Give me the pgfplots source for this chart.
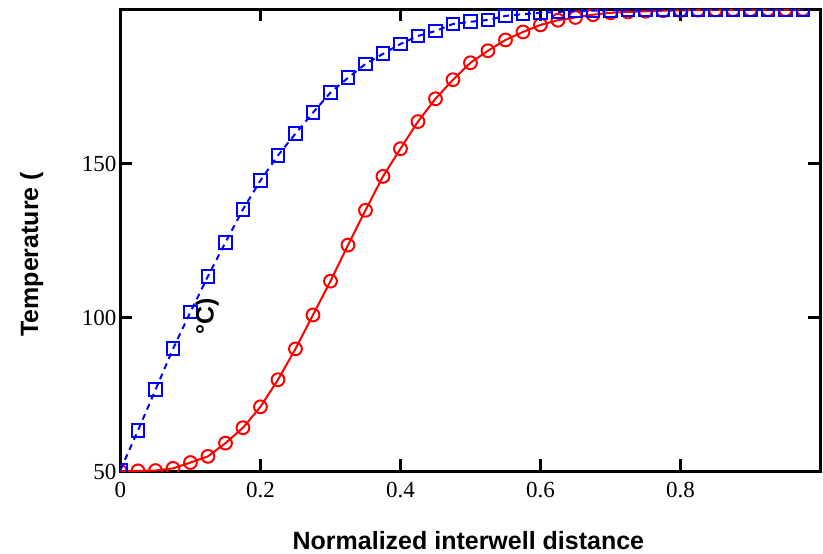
\documentclass[border=0pt]{standalone}
\usepackage{pgfplots}
\pgfplotsset{compat=1.18}
\usepackage{fontspec}
\setmainfont{Liberation Serif}
\setsansfont{Liberation Sans}

\begin{document}
\begin{tikzpicture}
\begin{axis}[
  scale only axis,
  width=350pt, height=231pt,
  xmin=0, xmax=1,
  ymin=50, ymax=200,
  xtick={0,0.2,0.4,0.6,0.8},
  ytick={50,100,150},
  xticklabels={0,0.2,0.4,0.6,0.8},
  tick align=inside,
  tick pos=both,
  major tick length=6pt,
  axis line style={line width=1.3pt},
  every tick/.style={black, line width=1.1pt},
  tick label style={font=\fontsize{11.5}{13}\selectfont},
  xticklabel style={yshift=-2pt},
  yticklabel style={xshift=1.5pt},
  /pgf/number format/assume math mode=true,
  clip marker paths=true,
  xlabel={Normalized interwell distance},
  xlabel style={font=\sffamily\bfseries\fontsize{12.5}{14}\selectfont,
    at={(axis description cs:0.497,-0.149)}, anchor=center},
  ylabel={Temperature (},
  ylabel style={font=\sffamily\bfseries\fontsize{12.5}{14}\selectfont,
    at={(axis description cs:-0.127,0.47)}, anchor=center},
]
% red: solid line with circles
\addplot[red, line width=1pt, mark=o, mark size=3.2pt,
  mark options={solid, line width=1pt}] coordinates {
  (0,50) (0.025,50.2) (0.05,50.3) (0.075,51) (0.1,52.9) (0.125,54.9)
  (0.15,59.2) (0.175,64.2) (0.2,71) (0.225,79.8) (0.25,89.8)
  (0.275,100.8) (0.3,111.8) (0.325,123.5) (0.35,134.8) (0.375,145.8)
  (0.4,154.8) (0.425,163.6) (0.45,171) (0.475,177.2) (0.5,182.7)
  (0.525,186.6) (0.55,190.1) (0.575,192.7) (0.6,195) (0.625,196.5)
  (0.65,197.4) (0.675,198.3) (0.7,198.9) (0.725,199.2) (0.75,199.4)
  (0.775,199.6) (0.8,199.7) (0.825,199.8) (0.85,199.85) (0.875,199.9)
  (0.9,199.93) (0.925,199.95) (0.95,199.97) (0.975,200)
};
% blue: dashed line with squares
\addplot[blue, line width=1pt, dash pattern=on 3pt off 2.5pt,
  mark=square, mark size=3.2pt,
  mark options={solid, line width=1pt}] coordinates {
  (0,50.5) (0.025,63.3) (0.05,76.5) (0.075,89.8) (0.1,101.8)
  (0.125,113.4) (0.15,124.4) (0.175,135.1) (0.2,144.5) (0.225,152.6)
  (0.25,159.7) (0.275,166.5) (0.3,173) (0.325,177.8) (0.35,182.3)
  (0.375,185.6) (0.4,188.8) (0.425,191.4) (0.45,193) (0.475,195.3)
  (0.5,196) (0.525,196.6) (0.55,197.9) (0.575,198.5) (0.6,198.9)
  (0.625,199.2) (0.65,199.5) (0.675,199.6) (0.7,199.7) (0.725,199.8)
  (0.75,199.85) (0.775,199.9) (0.8,199.92) (0.825,199.94) (0.85,199.95)
  (0.875,199.96) (0.9,199.97) (0.925,199.98) (0.95,199.99) (0.975,200)
};
\node[rotate=90, font=\sffamily\bfseries\fontsize{12.5}{14}\selectfont]
  at (axis cs:0.124,100.5) {°C)};
\coordinate (bl) at (axis description cs:-0.1721,-0.1773);
\coordinate (tr) at (axis description cs:1.0036,1.0205);
\end{axis}
\pgfresetboundingbox
\useasboundingbox (bl) rectangle (tr);
\end{tikzpicture}
\end{document}
